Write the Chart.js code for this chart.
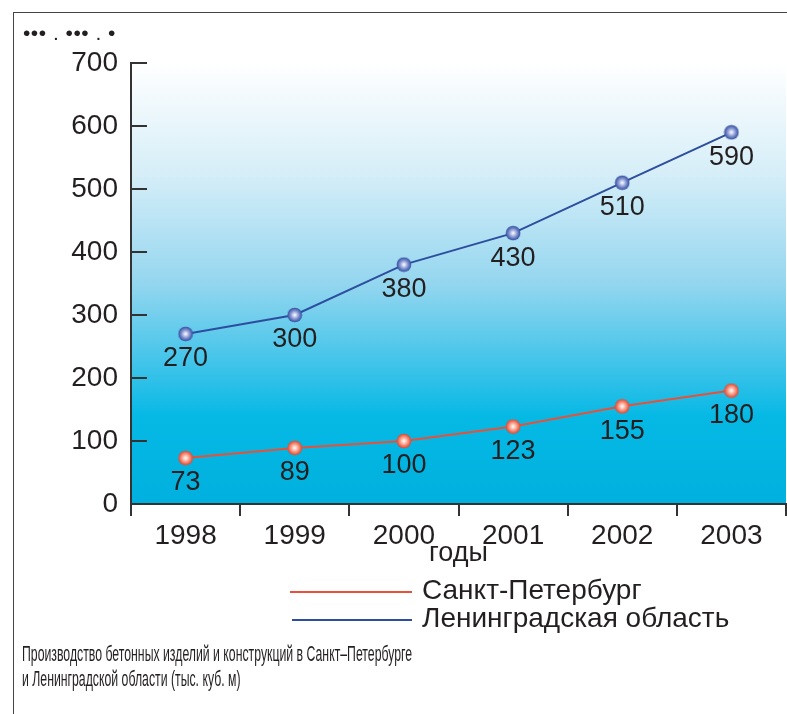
<!DOCTYPE html>
<html>
<head>
<meta charset="utf-8">
<script src="https://cdn.jsdelivr.net/npm/chart.js@4.4.0/dist/chart.umd.min.js"></script>
<style>
  html, body { margin: 0; padding: 0; background: #fff; }
  body { width: 787px; height: 714px; position: relative; overflow: hidden;
         font-family: "Liberation Sans", Arial, sans-serif; color: #231f20; }
  #frame { position: absolute; left: 13px; top: 12px; right: -5px; bottom: -5px;
           border-left: 1.5px solid #444; border-top: 1.5px solid #444; }
  #chart { position: absolute; left: 0; top: 0; }
  .abs { position: absolute; white-space: nowrap; }
  #unit { left: 23px; top: 21px; font-size: 21px; letter-spacing: 0.5px; }
  .lgline { position: absolute; height: 2px; }
  .lgtext { font-size: 28px; line-height: 28px; }
  #caption { left: 22px; top: 641px; font-size: 22px; line-height: 25px; transform-origin: 0 0; }
</style>
</head>
<body>
<div id="frame"></div>
<canvas id="chart" width="787" height="714"></canvas>
<div class="abs" id="unit">••• . ••• . •</div>
<div class="lgline" style="left:290px; top:591px; width:122px; background:#e8503a;"></div>
<div class="abs lgtext" style="left:422px; top:576px;">Санкт-Петербург</div>
<div class="lgline" style="left:292px; top:619px; width:120px; background:#2d4e9e;"></div>
<div class="abs lgtext" style="left:422px; top:604px;">Ленинградская область</div>
<div class="abs" id="caption">Производство бетонных изделий и конструкций в Санкт–Петербурге<br>и Ленинградской области (тыс. куб. м)</div>
<script>
// data
const years = ['1998', '1999', '2000', '2001', '2002', '2003'];
const spbValues = [73, 89, 100, 123, 155, 180];
const lenoblValues = [270, 300, 380, 430, 510, 590];
const yMax = 700;
const yStep = 100;

const FONT = '"Liberation Sans", Arial, sans-serif';
const TEXT = '#231f20';
const AXIS = '#333333';

// the caption is set in a condensed face, squeeze it to the original width
const cap = document.getElementById('caption');
cap.style.transform = 'scaleX(' + (390 / cap.offsetWidth).toFixed(3) + ')';

// small round marker with a soft highlight
function makeDot(edge, mid, center) {
    const c = document.createElement('canvas');
    c.width = 16; c.height = 16;
    const g = c.getContext('2d');
    const grad = g.createRadialGradient(8, 8, 0.5, 8, 8, 7.5);
    grad.addColorStop(0, center);
    grad.addColorStop(0.45, mid);
    grad.addColorStop(1, edge);
    g.fillStyle = grad;
    g.beginPath(); g.arc(8, 8, 7.3, 0, Math.PI * 2); g.fill();
    return c;
}

const bgGradient = {
    id: 'bgGradient',
    beforeDraw(chart) {
        const { ctx, chartArea: a } = chart;
        const grad = ctx.createLinearGradient(0, a.top, 0, a.bottom);
        grad.addColorStop(0, '#ffffff');
        grad.addColorStop(0.25, '#d6eef8');
        grad.addColorStop(0.5, '#94d6ef');
        grad.addColorStop(0.72, '#2fc0e8');
        grad.addColorStop(0.8, '#06b9e5');
        grad.addColorStop(1, '#00b0de');
        ctx.save();
        ctx.fillStyle = grad;
        ctx.fillRect(a.left, a.top, a.right - a.left, a.bottom - a.top);
        ctx.restore();
    }
};

const valueLabels = {
    id: 'valueLabels',
    afterDatasetsDraw(chart) {
        const ctx = chart.ctx;
        ctx.save();
        ctx.font = '27px ' + FONT;
        ctx.fillStyle = TEXT;
        ctx.textAlign = 'center';
        ctx.textBaseline = 'middle';
        chart.data.datasets.forEach((ds, di) => {
            chart.getDatasetMeta(di).data.forEach((pt, i) => {
                ctx.fillText(String(ds.data[i]), pt.x, pt.y + 25);
            });
        });
        ctx.restore();
    }
};

new Chart(document.getElementById('chart'), {
    type: 'line',
    data: {
        labels: years,
        datasets: [
            {
                label: 'Санкт-Петербург',
                data: spbValues,
                borderColor: '#e8503a',
                borderWidth: 2,
                pointStyle: makeDot('#e43d25', '#f7a08c', '#fff6f0'),
                tension: 0,
            },
            {
                label: 'Ленинградская область',
                data: lenoblValues,
                borderColor: '#2d4e9e',
                borderWidth: 2,
                pointStyle: makeDot('#2b469c', '#8f9fd6', '#f4f4ff'),
                tension: 0,
            },
        ],
    },
    options: {
        responsive: false,
        animation: false,
        devicePixelRatio: 1,
        layout: { autoPadding: false, padding: { top: 63, left: 0, right: 1, bottom: 144 } },
        plugins: { legend: { display: false }, tooltip: { enabled: false } },
        scales: {
            x: {
                offset: true,
                afterFit: (s) => { s.height = 66; s.paddingLeft = 0; s.paddingRight = 0; },
                grid: { drawOnChartArea: false, offset: true, tickLength: 12, color: AXIS, lineWidth: 2 },
                border: { color: AXIS, width: 2 },
                ticks: { color: TEXT, padding: 3, font: { size: 28, family: FONT } },
                title: { display: true, text: 'годы', color: TEXT, padding: { top: 0, bottom: 0 },
                         font: { size: 27, family: FONT } },
            },
            y: {
                min: 0,
                max: yMax,
                afterFit: (s) => { s.width = 131; },
                grid: { drawOnChartArea: false, tickLength: -16, color: AXIS, lineWidth: 2 },
                border: { color: AXIS, width: 2 },
                ticks: { stepSize: yStep, color: TEXT, padding: 29, font: { size: 28, family: FONT } },
            },
        },
    },
    plugins: [bgGradient, valueLabels],
});
</script>
</body>
</html>
